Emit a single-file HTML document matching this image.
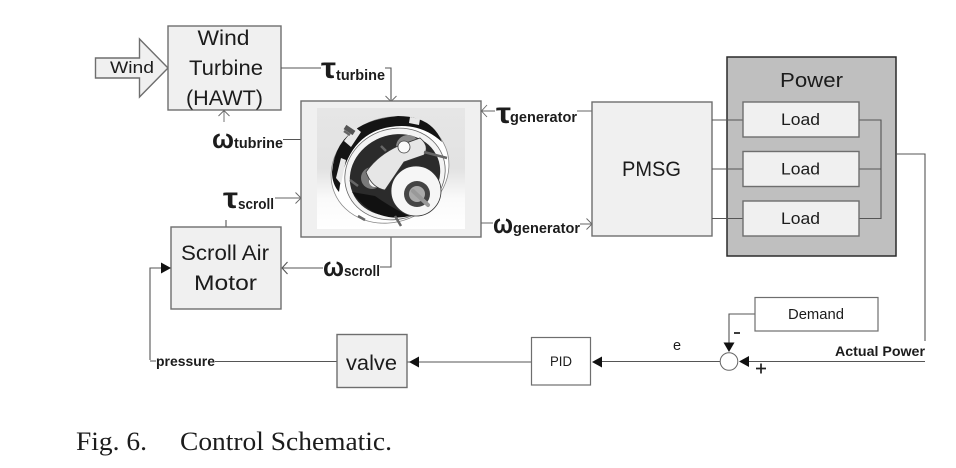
<!DOCTYPE html>
<html><head><meta charset="utf-8"><style>
html,body{margin:0;padding:0;background:#fff}
svg{display:block}
text{font-family:"Liberation Sans",sans-serif;fill:#1c1c1c}
.b{font-weight:bold}
.box{fill:#f0f0f0;stroke:#6e6e6e;stroke-width:1.4}
.l{fill:none;stroke:#555;stroke-width:1.1}
.o{fill:none;stroke:#666;stroke-width:.9}
.c{font-family:"Liberation Serif",serif}
</style></head><body>
<svg width="956" height="468" viewBox="0 0 956 468" xmlns="http://www.w3.org/2000/svg">
<defs><linearGradient id="g" x1="0" y1="0" x2="0" y2="1"><stop offset="0" stop-color="#e6e6e6"/><stop offset=".5" stop-color="#e2e2e2"/><stop offset=".75" stop-color="#fafafa"/><stop offset="1" stop-color="#fff"/></linearGradient></defs>

<!-- Wind arrow -->
<path d="M95.500 58H139.500V39L168 68 139.500 97V78H95.500Z" class="box" stroke-width="1"/>
<text x="110" y="73" font-size="16.500" textLength="44" lengthAdjust="spacingAndGlyphs">Wind</text>

<!-- Wind turbine -->
<rect x="168" y="26" width="113" height="84" class="box"/>
<text x="197.500" y="45" font-size="21.500" textLength="52" lengthAdjust="spacingAndGlyphs">Wind</text>
<text x="189" y="75" font-size="21.500" textLength="74" lengthAdjust="spacingAndGlyphs">Turbine</text>
<text x="186" y="105" font-size="21.500" textLength="77" lengthAdjust="spacingAndGlyphs">(HAWT)</text>

<!-- Connectors top left -->
<path d="M281 68H321M385 68H391V101" class="l"/>
<path d="M385.500 96L391 101.500 396.500 96" class="o"/>
<path d="M224 122V111M218.500 116L224 110.500 229.500 116" class="o"/>
<path d="M283 139.500H301" class="l"/>
<path d="M275 198H301M295.500 192.500L301 198 295.500 203.500" class="o"/>
<path d="M226 220V227" class="l"/>
<path d="M391 237V267H380M323 268H282M287.500 262L282 268 287.500 274" class="l"/>

<text x="321" y="78" class="b" font-size="30" textLength="15" lengthAdjust="spacingAndGlyphs">τ</text>
<text x="336" y="80" class="b" font-size="14.500" textLength="49" lengthAdjust="spacingAndGlyphs">turbine</text>
<text x="212" y="148" class="b" font-size="27" textLength="22" lengthAdjust="spacingAndGlyphs">ω</text>
<text x="234" y="148" class="b" font-size="14.500" textLength="49" lengthAdjust="spacingAndGlyphs">tubrine</text>
<text x="223" y="208" class="b" font-size="30" textLength="15" lengthAdjust="spacingAndGlyphs">τ</text>
<text x="238" y="209" class="b" font-size="14.500" textLength="36" lengthAdjust="spacingAndGlyphs">scroll</text>
<text x="323" y="276" class="b" font-size="27" textLength="21" lengthAdjust="spacingAndGlyphs">ω</text>
<text x="344" y="276" class="b" font-size="14.500" textLength="36" lengthAdjust="spacingAndGlyphs">scroll</text>

<!-- Central image box -->
<rect x="301" y="101" width="180" height="136" class="box" fill="#f2f2f2"/>
<rect x="317" y="108" width="148" height="121" fill="url(#g)"/>
<!-- Gearbox picture -->
<ellipse cx="390" cy="170" rx="60" ry="52" transform="rotate(-22 390 170)" fill="#fff" stroke="#888" stroke-width=".8"/>
<path d="M332 172Q336 122 398 116Q432 116 442 142Q420 122 390 127Q346 134 339 192Q332 184 332 172Z" fill="#141414"/>
<path d="M344 141L355 127 361 132 351 147ZM336 178L341 158 346 160 341 184ZM410 117L420 119 419 125 409 123Z" fill="#e8e8e8"/>
<ellipse cx="395" cy="174" rx="51" ry="45" transform="rotate(-22 395 174)" fill="#f4f4f4" stroke="#666" stroke-width=".8"/>
<ellipse cx="395" cy="175" rx="46" ry="40" transform="rotate(-22 395 175)" fill="#2b2b2b"/>
<path d="M352 192Q375 224 410 216Q395 210 375 196Z" fill="#111"/>
<circle cx="408" cy="147" r="12" fill="#8a8a8a"/><circle cx="409" cy="150" r="6" fill="#f5f5f5"/>
<circle cx="372" cy="178" r="11" fill="#7a7a7a"/><circle cx="375" cy="181" r="6" fill="#f5f5f5"/>
<path d="M366 172Q378 155 398 146L420 138Q430 146 424 155L404 162 385 190Q372 188 366 172Z" fill="#e6e6e6" stroke="#333" stroke-width=".8"/>
<circle cx="404" cy="147" r="6" fill="#fafafa" stroke="#444" stroke-width=".8"/>
<circle cx="416" cy="191" r="25" fill="#f6f6f6" stroke="#333" stroke-width=".8"/>
<circle cx="417" cy="194" r="13" fill="#444"/><circle cx="417" cy="194" r="8" fill="#aaa"/>
<path d="M413 191L428 205" stroke="#999" stroke-width="4" stroke-linecap="round"/>
<path d="M344 131L350 135M424 152L447 158M358 216L365 220M395 216L401 226M350 180L358 186M381 146L386 151" stroke="#666" stroke-width="2.500"/>
<path d="M345 127L354 133" stroke="#555" stroke-width="5"/>

<!-- Generator connectors -->
<path d="M577 111H592M481 111H495M487 105L481.500 111 487 117" class="o"/>
<path d="M481 223H493M580 224H592M586.500 218.500L592 224 586.500 229.500" class="o"/>
<text x="496" y="123" class="b" font-size="30" textLength="15" lengthAdjust="spacingAndGlyphs">τ</text>
<text x="510" y="122" class="b" font-size="14.500" textLength="67" lengthAdjust="spacingAndGlyphs">generator</text>
<text x="493" y="233" class="b" font-size="27" textLength="20" lengthAdjust="spacingAndGlyphs">ω</text>
<text x="513" y="233" class="b" font-size="14.500" textLength="67" lengthAdjust="spacingAndGlyphs">generator</text>

<!-- PMSG -->
<rect x="592" y="102" width="120" height="134" class="box"/>
<text x="622" y="176" font-size="21.500" textLength="59" lengthAdjust="spacingAndGlyphs">PMSG</text>

<!-- Power -->
<rect x="727" y="57" width="169" height="199" fill="#bfbfbf" stroke="#2a2a2a" stroke-width="1.500"/>
<text x="780" y="87" font-size="20.500" textLength="63" lengthAdjust="spacingAndGlyphs">Power</text>
<path d="M712 120H743M712 169H743M712 218.500H743M859 120H881V218.500H859M859 169H881" class="l"/>
<rect x="743" y="102" width="116" height="35" class="box"/>
<rect x="743" y="151.500" width="116" height="35" class="box"/>
<rect x="743" y="201" width="116" height="35" class="box"/>
<text x="781" y="125" font-size="17" textLength="39" lengthAdjust="spacingAndGlyphs">Load</text>
<text x="781" y="174.500" font-size="17" textLength="39" lengthAdjust="spacingAndGlyphs">Load</text>
<text x="781" y="224" font-size="17" textLength="39" lengthAdjust="spacingAndGlyphs">Load</text>
<path d="M896 154H925V341" class="l"/>

<!-- Scroll air motor -->
<rect x="171" y="227" width="110" height="82" class="box"/>
<text x="181" y="260" font-size="21.500" textLength="88" lengthAdjust="spacingAndGlyphs">Scroll Air</text>
<text x="194" y="290" font-size="21.500" textLength="63" lengthAdjust="spacingAndGlyphs">Motor</text>

<!-- Feedback -->
<path d="M150 360V268H162" class="l"/>
<path d="M161 262.500L171 268 161 273.500Z" fill="#111"/>
<path d="M150 361H156M215 361.500H337M407 362H531" class="l"/>
<text x="156" y="366" class="b" font-size="14" textLength="59" lengthAdjust="spacingAndGlyphs">pressure</text>
<rect x="337" y="334.500" width="70" height="53" class="box"/>
<text x="346" y="370" font-size="21.500" textLength="51" lengthAdjust="spacingAndGlyphs">valve</text>
<path d="M409 362L419 356.500V367.500Z" fill="#111"/>
<rect x="531.500" y="337.500" width="59" height="47.500" fill="#fff" stroke="#6e6e6e" stroke-width="1.200"/>
<text x="550" y="366" font-size="14" textLength="22" lengthAdjust="spacingAndGlyphs">PID</text>
<path d="M592 362L602 356.500V367.500Z" fill="#111"/>
<path d="M602 361.500H720M749 361.500H925M755 314H729V343" class="l"/>
<path d="M723.500 342.500H734.500L729 352Z" fill="#111"/>
<circle cx="729" cy="361.500" r="8.800" fill="#fff" stroke="#666" stroke-width="1"/>
<path d="M739 361.500L749 356V367Z" fill="#111"/>
<rect x="755" y="297.500" width="123" height="33.500" fill="#fff" stroke="#6e6e6e" stroke-width="1.200"/>
<text x="788" y="319" font-size="14.500" textLength="56" lengthAdjust="spacingAndGlyphs">Demand</text>
<text x="673" y="350" font-size="14.500">e</text>
<path d="M734 333H740M756 368.500H766M761 363.500V373.500" stroke="#222" stroke-width="1.700" fill="none"/>
<text x="835" y="356" class="b" font-size="14" textLength="90" lengthAdjust="spacingAndGlyphs">Actual Power</text>

<!-- Caption -->
<text x="76" y="450" class="c" font-size="26" textLength="71" lengthAdjust="spacingAndGlyphs">Fig. 6.</text>
<text x="180" y="450" class="c" font-size="26" textLength="212" lengthAdjust="spacingAndGlyphs">Control Schematic.</text>
</svg>
</body></html>
